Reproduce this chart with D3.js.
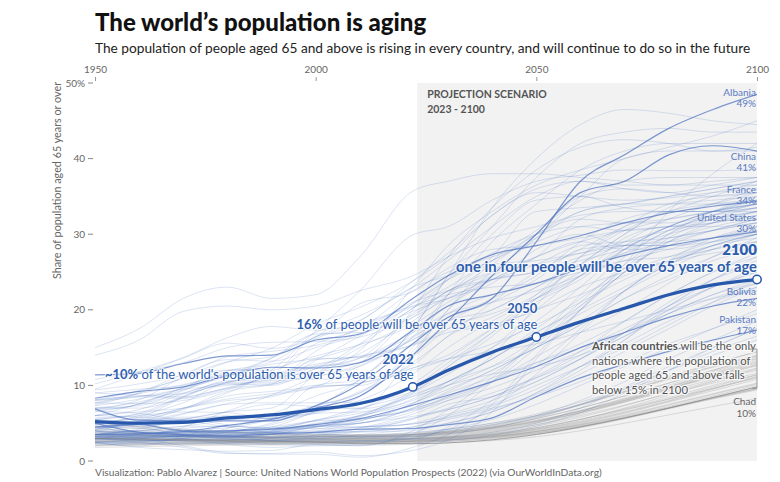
<!DOCTYPE html>
<html><head><meta charset="utf-8">
<script src="https://cdn.jsdelivr.net/npm/d3@7"></script>
<style>
body{margin:0;background:#fff;}
svg{font-family:Lato,"Open Sans",sans-serif;}
</style></head>
<body><svg id="c" width="780" height="482"></svg>
<script>
const years = [1950,1960,1970,1980,1990,2000,2010,2022,2030,2040,2050,2060,2070,2080,2090,2100];
const yTicks = [0,10,20,30,40,50];
const xTicks = [1950,2000,2050,2100];
const worldShare = [5.2,5.0,5.1,5.7,6.1,6.8,7.6,9.8,12.0,14.4,16.4,18.4,20.2,22.0,23.3,24.0];

// non-African countries (blue)
const otherNames = ["Japan","South Korea","Italy","Spain","Germany","Greece","Portugal","Hong Kong","Taiwan","Singapore","Puerto Rico","Cuba","Thailand","Iran","Vietnam","Brazil","Chile","Colombia","Mexico","Argentina","Uruguay","Canada","United Kingdom","Sweden","Russia","Poland","Ukraine","Bulgaria","Serbia","Lithuania","Armenia","Georgia","Turkey","India","Indonesia","Philippines","Bangladesh","Peru","Guatemala","Honduras","Haiti","Afghanistan","Iraq","Yemen","Saudi Arabia","UAE","Qatar","Kuwait","Mongolia","Israel","Australia","New Zealand","Papua New Guinea","Nepal","Monaco","San Marino","Sri Lanka","Malaysia","Myanmar","Kazakhstan","Uzbekistan","Ecuador","Paraguay","Venezuela","Dominican Republic","Jamaica","Barbados","Belarus","Romania","Netherlands","Hungary","Cyprus","Malta","Switzerland","Moldova","North Korea","Lebanon","Bhutan","Macao","Tajikistan","Solomon Islands","Laos","Cambodia","Syria","Jordan","Guyana","Bosnia","Croatia","Bahrain","Oman"];
const otherValues = [
[4.9,5.7,7.0,9.0,12.0,17.2,22.5,29.9,31.0,34.5,37.0,37.8,38.5,38.4,38.4,38.6],
[2.9,3.3,3.3,3.8,5.0,7.1,10.8,17.5,24.5,33.5,40.0,44.5,46.5,46.0,45.0,44.5],
[8.1,9.3,10.9,13.1,14.9,18.1,20.3,23.8,27.0,32.5,35.5,35.0,34.5,34.8,35.5,36.0],
[7.3,8.2,9.6,11.2,13.6,16.8,17.0,20.2,24.0,30.0,34.5,35.0,33.5,33.0,34.0,35.5],
[9.5,11.5,13.6,15.6,14.9,16.4,20.8,22.4,25.5,28.0,28.5,29.5,30.5,31.0,31.5,32.5],
[6.8,8.1,11.1,13.1,13.8,17.0,19.2,23.0,26.5,31.0,35.0,37.0,36.0,35.5,36.5,37.5],
[7.0,7.8,9.4,11.4,13.6,16.2,18.5,23.8,27.5,32.5,36.0,37.0,36.5,36.5,37.0,37.5],
[2.5,2.9,4.5,6.6,8.7,11.1,12.9,20.0,27.0,33.5,38.5,41.5,42.5,42.0,41.0,41.0],
[2.5,2.5,3.0,4.3,6.2,8.6,10.7,17.5,24.5,31.0,37.5,42.0,43.5,44.0,43.5,43.5],
[2.4,2.0,3.3,4.7,5.6,7.3,9.0,15.0,22.0,29.0,34.0,38.5,41.0,42.0,42.0,42.0],
[3.8,5.3,6.9,9.2,10.1,11.6,14.6,23.0,28.5,33.0,36.5,38.5,40.0,41.5,43.0,45.0],
[4.4,4.9,6.2,7.6,8.7,9.8,12.6,16.4,22.0,27.0,33.0,33.5,34.0,35.0,36.0,37.0],
[3.0,3.0,3.3,3.8,4.8,6.5,8.5,14.5,20.0,26.5,30.5,34.5,37.0,37.5,37.5,37.5],
[4.5,3.7,3.3,3.2,3.5,4.5,5.3,7.6,10.0,14.0,20.5,27.0,31.0,34.0,35.0,35.5],
[4.2,5.0,5.8,5.8,5.7,6.3,6.5,9.0,12.5,17.0,21.5,24.5,28.5,31.0,33.0,34.5],
[2.8,3.0,3.4,4.0,4.3,5.3,6.8,10.2,13.5,17.5,22.0,27.0,30.5,33.0,34.0,34.5],
[3.5,4.0,4.6,5.4,6.1,7.3,9.0,13.0,16.5,21.0,25.0,28.0,31.0,33.0,35.0,37.0],
[3.0,3.2,3.7,3.9,4.1,4.8,6.0,9.3,12.5,16.5,21.5,26.0,30.0,33.5,35.5,36.5],
[3.3,3.4,3.9,4.1,4.2,4.9,5.9,8.2,10.5,13.5,17.5,21.5,25.5,28.5,30.5,32.0],
[4.1,5.5,7.0,8.2,8.9,9.7,10.3,12.0,13.5,15.5,18.0,21.0,24.0,26.5,28.5,30.0],
[7.6,8.6,8.9,10.4,11.5,12.8,13.9,15.4,17.5,20.0,23.0,26.0,29.0,32.0,34.0,36.0],
[7.7,7.6,8.0,9.4,11.3,12.6,14.2,19.0,22.5,24.0,25.0,27.0,28.5,30.0,31.5,33.0],
[10.8,11.8,13.0,15.0,15.7,15.8,16.4,19.0,21.5,24.0,25.0,26.5,28.0,29.5,30.5,31.5],
[10.2,11.8,13.7,16.3,17.8,17.3,18.2,20.5,22.0,23.0,23.5,25.0,26.5,27.0,28.5,29.5],
[4.8,6.0,7.7,10.2,10.2,12.5,13.0,16.0,18.5,20.0,23.0,26.0,25.5,26.5,28.0,29.0],
[5.2,5.8,8.4,10.2,10.0,12.2,13.6,19.5,22.5,25.0,30.0,35.0,36.0,35.5,35.0,35.5],
[6.0,7.6,9.7,12.0,12.3,13.9,15.4,18.0,21.0,24.0,27.0,32.0,33.5,34.0,34.5,35.0],
[6.7,7.5,9.7,11.9,13.1,16.4,18.6,23.0,24.5,26.5,30.0,32.0,31.5,31.5,32.5,33.5],
[5.5,6.3,8.6,10.4,11.4,16.5,17.4,21.0,22.5,24.0,26.0,28.5,29.0,29.5,30.5,31.5],
[9.0,9.5,10.0,11.4,10.9,14.5,17.7,20.8,24.0,27.5,30.0,31.0,30.5,31.0,32.0,33.0],
[6.6,6.3,5.5,5.5,5.7,10.0,10.7,12.7,16.5,19.0,22.0,26.0,30.0,33.0,33.0,33.5],
[7.0,7.0,8.3,9.6,10.2,13.5,13.7,15.3,17.0,18.0,20.0,23.0,25.0,27.0,29.0,31.0],
[3.3,3.4,4.3,4.6,4.3,5.4,7.0,9.0,11.5,15.0,20.0,24.5,28.0,31.0,33.0,34.0],
[3.1,3.1,3.4,3.7,4.0,4.6,5.0,6.9,8.3,10.5,13.8,17.0,20.0,23.5,27.0,29.5],
[4.0,3.3,3.2,3.4,3.8,4.7,5.0,7.0,9.2,12.0,15.0,18.0,21.5,24.0,26.5,28.0],
[3.3,2.8,2.7,2.8,3.0,3.4,4.0,5.6,6.8,8.5,11.0,14.0,17.0,20.0,23.0,25.5],
[4.0,3.8,3.2,3.1,3.1,3.8,4.4,6.2,8.0,10.5,15.0,20.0,25.0,29.0,31.0,32.0],
[3.3,3.4,3.4,3.6,4.0,4.8,6.0,8.8,10.5,13.5,17.0,20.0,23.0,26.0,28.5,30.0],
[2.5,2.7,2.8,3.0,3.5,3.9,4.5,4.9,5.8,7.3,9.5,12.5,15.5,18.5,21.0,23.0],
[3.0,2.8,2.9,3.1,3.3,3.7,4.2,5.0,6.2,8.0,10.5,13.5,17.0,20.5,23.0,25.0],
[4.3,4.0,4.6,4.6,4.4,4.3,4.5,4.9,5.7,7.0,8.5,10.5,13.0,15.5,17.5,19.5],
[2.5,2.4,2.3,2.3,2.2,2.2,2.2,2.4,2.7,3.4,4.6,6.4,9.0,12.0,15.0,17.5],
[3.5,3.9,3.4,2.9,2.7,3.0,3.2,3.5,4.2,5.5,7.5,10.0,12.5,15.0,17.5,20.0],
[2.5,2.6,2.8,2.9,2.7,2.5,2.7,2.8,3.1,3.8,5.0,7.0,9.8,12.5,15.0,17.5],
[3.2,3.2,3.3,3.3,2.7,2.8,2.7,2.9,4.5,8.0,12.5,17.5,22.5,26.0,27.5,28.0],
[3.5,3.0,2.0,1.1,0.9,0.9,0.5,1.8,3.5,7.5,14.0,20.0,25.0,29.5,32.0,33.5],
[3.0,2.5,1.8,1.0,1.0,1.2,0.7,1.4,2.8,6.5,13.5,20.0,26.0,33.0,38.0,42.0],
[2.5,1.8,1.5,1.3,1.4,2.2,2.0,4.0,6.8,11.0,16.0,21.0,26.0,30.0,32.0,33.0],
[4.5,4.3,3.8,3.8,3.8,3.8,3.9,4.5,6.0,7.5,10.0,12.5,15.0,18.0,21.0,24.0],
[4.2,5.2,6.8,8.6,9.2,9.8,10.3,12.3,13.5,14.5,15.5,17.0,18.5,20.0,21.5,22.5],
[8.1,8.5,8.3,9.6,11.2,12.4,13.6,17.0,19.5,21.0,22.5,24.5,26.5,28.0,29.5,30.5],
[9.0,8.7,8.5,9.7,11.1,11.7,13.1,16.3,19.5,22.0,23.5,25.5,27.5,29.0,30.5,32.0],
[2.3,2.3,2.4,2.5,2.6,2.8,3.0,3.2,3.6,4.4,5.7,7.5,9.6,12.0,14.0,16.0],
[3.6,3.7,3.8,3.8,3.8,4.0,5.0,5.9,6.8,8.5,11.2,14.5,18.5,22.0,25.0,27.5],
[15.0,17.5,21.5,23.0,21.5,22.0,27.0,35.7,37.0,38.0,38.0,37.5,37.0,36.5,36.5,36.5],
[14.0,16.0,19.8,20.5,20.0,20.5,22.5,24.5,27.0,29.5,31.0,32.5,33.0,33.0,33.0,33.5],
[3.5,4.0,4.1,4.4,5.4,6.3,8.0,11.5,15.0,18.5,21.5,25.0,27.5,30.5,32.5,34.0],
[4.8,3.6,3.6,3.7,3.7,4.2,5.3,7.6,10.5,13.5,17.0,20.5,25.0,29.0,31.5,33.0],
[3.5,3.6,3.8,4.0,4.5,5.3,5.6,6.8,8.5,10.5,13.0,15.5,18.5,22.0,25.0,27.0],
[5.5,6.0,6.5,6.4,5.6,7.0,6.9,8.5,10.0,11.5,12.5,14.0,16.5,19.5,22.0,23.5],
[5.5,5.0,5.6,4.8,4.2,4.6,4.5,5.5,7.5,8.5,10.5,13.5,17.0,21.0,24.0,26.0],
[4.0,3.8,3.9,4.0,4.3,5.4,6.3,8.0,10.0,12.5,16.0,19.5,22.5,25.5,28.0,30.0],
[3.5,3.6,3.7,3.8,3.9,4.6,5.5,6.7,8.0,9.7,12.0,14.5,17.0,19.5,21.5,23.5],
[2.8,2.9,3.3,3.5,3.8,4.5,5.8,8.6,10.5,12.5,15.0,18.5,22.5,26.5,29.5,31.0],
[3.2,2.9,3.0,3.3,3.9,5.0,6.0,7.7,9.5,12.0,15.0,18.0,21.5,24.5,27.0,29.0],
[4.5,5.2,6.3,7.5,7.7,7.7,7.8,9.2,12.0,15.0,18.5,23.0,28.0,31.0,33.0,34.0],
[6.5,7.5,9.0,10.5,11.0,10.8,11.3,17.0,20.5,24.0,27.0,29.0,30.5,32.0,33.0,34.0],
[7.0,7.3,9.3,11.5,10.7,13.4,13.8,16.5,19.0,21.0,24.0,28.0,28.5,28.5,29.0,30.0],
[6.0,6.8,8.9,10.4,10.4,13.3,16.5,19.8,21.5,23.5,28.0,30.0,28.5,28.5,29.5,31.0],
[7.7,8.9,10.1,11.5,12.8,13.6,15.4,20.2,23.0,26.0,26.5,27.5,28.5,29.0,29.5,30.0],
[7.4,9.0,11.5,13.4,13.2,15.0,16.7,20.4,21.5,24.5,27.0,29.0,28.0,28.0,29.0,30.5],
[5.7,6.2,8.5,10.6,10.6,11.2,12.5,16.1,18.5,21.5,24.5,29.0,32.0,33.0,33.0,33.0],
[8.0,8.5,9.5,10.0,10.8,12.2,15.5,20.9,24.0,26.5,29.5,33.0,34.0,34.0,34.0,34.5],
[9.4,10.2,11.4,13.8,14.5,15.3,16.9,19.3,22.5,25.0,26.0,27.5,29.0,30.5,31.5,32.5],
[6.0,6.5,7.0,8.0,8.5,10.0,10.0,13.8,17.5,19.5,21.5,24.5,29.5,31.0,31.0,31.5],
[3.0,3.5,3.6,3.9,4.5,6.6,9.2,12.3,14.0,17.5,20.0,22.0,24.5,26.5,28.0,29.0],
[5.0,5.5,5.4,6.0,5.6,6.5,7.5,9.7,13.0,17.0,21.0,24.0,28.0,31.0,33.0,34.5],
[3.0,3.1,3.3,3.4,3.6,4.5,5.0,6.5,8.5,11.5,15.5,20.5,25.5,30.0,33.0,35.0],
[4.5,4.5,5.5,6.5,7.5,7.2,7.0,14.0,20.0,25.0,29.5,35.0,40.0,41.0,41.0,41.5],
[6.0,5.8,5.4,4.5,3.8,3.7,3.2,3.3,4.0,4.8,6.0,8.0,10.5,13.5,16.0,18.5],
[2.0,2.5,3.0,3.2,3.2,3.2,3.3,3.8,4.2,5.0,6.0,7.5,9.5,12.0,14.5,16.5],
[3.8,3.6,3.4,3.5,3.5,3.7,3.9,4.5,5.5,6.8,8.8,11.5,14.5,17.5,20.5,23.0],
[3.0,2.8,2.6,2.5,3.0,3.4,4.3,5.7,7.0,9.0,11.0,13.5,16.5,19.5,22.0,24.0],
[5.5,5.0,4.0,3.3,3.0,3.0,3.5,4.2,5.0,6.5,9.0,12.5,16.0,20.0,23.0,25.0],
[5.0,4.5,3.5,3.0,2.8,3.2,3.8,4.0,5.0,6.5,9.0,12.0,16.0,20.5,24.0,26.5],
[3.5,3.2,3.2,3.5,3.8,4.5,5.5,7.0,9.0,11.0,13.0,15.0,17.5,20.5,24.0,27.0],
[3.5,4.2,5.5,6.5,7.0,11.5,15.0,18.5,22.0,26.0,30.0,33.0,34.0,35.0,36.0,37.0],
[8.0,9.0,11.0,12.0,12.0,15.5,17.5,22.5,25.0,27.0,29.0,31.0,31.5,32.0,33.0,34.0],
[4.0,3.5,3.0,2.2,1.8,2.0,2.1,3.6,6.0,10.5,16.0,22.0,27.0,30.5,32.5,34.0],
[3.3,3.1,2.9,2.6,2.3,2.4,2.5,3.0,4.2,7.0,11.5,17.0,22.5,26.0,28.5,30.0]
];

// African countries (grey)
const africaValues = [
[3.0,3.0,2.9,2.8,2.8,2.8,2.7,2.8,3.0,3.5,4.3,5.5,7.0,8.7,10.5,12.2],
[2.6,2.6,2.6,2.5,2.5,2.6,2.6,2.7,2.9,3.3,4.0,5.0,6.3,7.8,9.3,10.8],
[3.5,3.4,3.3,3.1,3.0,3.0,3.0,3.1,3.4,4.0,5.0,6.4,8.0,9.8,11.6,13.3],
[2.2,2.3,2.4,2.4,2.4,2.5,2.5,2.6,2.8,3.1,3.7,4.6,5.7,7.0,8.3,9.5],
[4.0,3.8,3.5,3.3,3.1,3.0,3.0,3.2,3.6,4.4,5.6,7.0,8.6,10.3,12.0,13.8],
[3.2,3.1,3.0,3.0,2.9,2.9,2.9,3.0,3.2,3.7,4.6,5.8,7.3,9.0,10.6,12.0],
[2.8,2.8,2.7,2.6,2.5,2.5,2.4,2.5,2.6,2.9,3.5,4.4,5.6,7.0,8.4,9.8],
[3.8,3.7,3.5,3.3,3.2,3.2,3.2,3.3,3.6,4.2,5.2,6.6,8.3,10.0,11.8,13.5],
[2.4,2.4,2.5,2.6,2.7,2.8,2.9,3.0,3.3,3.9,4.8,6.0,7.4,8.9,10.3,11.6],
[3.3,3.2,3.1,3.1,3.1,3.2,3.3,3.5,3.9,4.5,5.4,6.6,8.0,9.5,11.1,12.6],
[4.5,4.3,4.0,3.7,3.5,3.3,3.2,3.4,3.8,4.6,5.8,7.4,9.2,11.0,12.8,14.5],
[2.9,2.8,2.7,2.6,2.6,2.6,2.6,2.7,3.0,3.4,4.1,5.1,6.4,7.9,9.5,11.1],
[2.0,2.1,2.2,2.3,2.4,2.4,2.5,2.6,2.8,3.2,3.9,4.9,6.1,7.5,8.9,10.3],
[3.6,3.5,3.4,3.3,3.3,3.3,3.4,3.6,4.0,4.8,6.0,7.5,9.2,10.9,12.5,14.0],
[3.1,3.0,2.9,2.8,2.7,2.7,2.7,2.9,3.2,3.8,4.8,6.2,7.8,9.5,11.3,13.0],
[2.5,2.5,2.4,2.4,2.3,2.3,2.3,2.4,2.6,3.0,3.6,4.5,5.6,6.9,8.2,9.4],
[4.2,4.0,3.8,3.6,3.5,3.4,3.4,3.5,3.8,4.4,5.3,6.6,8.1,9.7,11.3,12.8],
[2.7,2.7,2.8,2.8,2.8,2.9,2.9,3.0,3.2,3.6,4.4,5.5,6.9,8.4,10.0,11.4],
[3.4,3.3,3.2,3.0,2.9,2.8,2.8,2.9,3.1,3.6,4.4,5.5,6.8,8.2,9.6,11.0],
[2.3,2.2,2.2,2.2,2.1,2.1,2.1,2.2,2.4,2.7,3.2,4.0,5.0,6.1,7.2,8.3],
[3.9,3.8,3.6,3.4,3.3,3.3,3.3,3.5,3.9,4.7,5.9,7.4,9.1,10.8,12.4,13.9],
[2.9,2.9,2.8,2.8,2.7,2.7,2.8,2.9,3.1,3.5,4.2,5.2,6.5,8.0,9.6,11.2],
[3.0,2.9,2.8,2.7,2.6,2.6,2.5,2.6,2.8,3.2,3.8,4.7,5.8,7.1,8.4,9.6],
[5.0,4.6,4.2,3.9,3.7,3.5,3.4,3.5,3.8,4.5,5.6,7.0,8.6,10.3,12.0,13.6],
[2.6,2.7,2.7,2.8,2.9,3.0,3.1,3.3,3.7,4.3,5.3,6.7,8.2,9.8,11.5,13.1],
[3.7,3.5,3.3,3.2,3.1,3.1,3.1,3.2,3.5,4.1,5.1,6.4,7.9,9.6,11.2,12.7],
[2.1,2.2,2.3,2.4,2.5,2.6,2.6,2.7,2.9,3.4,4.2,5.3,6.7,8.2,9.8,11.4],
[3.2,3.3,3.3,3.2,3.1,3.0,2.9,2.9,3.0,3.3,3.9,4.8,5.9,7.2,8.6,10.0],
[4.8,4.5,4.1,3.8,3.6,3.5,3.5,3.7,4.2,5.0,6.2,7.8,9.5,11.2,12.9,14.4],
[2.8,2.7,2.6,2.5,2.5,2.5,2.5,2.6,2.8,3.2,3.9,4.8,6.0,7.4,8.8,10.2],
[1.8,1.9,2.0,2.1,2.2,2.3,2.4,2.5,2.7,3.1,3.7,4.6,5.7,7.0,8.3,9.6],
[3.5,3.4,3.3,3.2,3.2,3.2,3.2,3.4,3.7,4.3,5.2,6.4,7.8,9.3,10.8,12.3]
];

// labelled countries
const labelNames = ["Albania","China","France","United States","Bolivia","Pakistan"];
const labelShares = ["49%","41%","34%","30%","22%","17%"];
const labelValues = [
[6.9,5.4,5.3,5.3,5.3,7.3,10.2,15.5,19.0,21.5,29.0,37.0,40.5,44.0,46.5,48.5],
[4.5,4.8,4.0,4.7,5.5,7.0,8.6,14.0,18.5,24.5,30.0,35.5,37.0,40.5,41.7,41.0],
[11.4,11.6,12.9,13.9,14.0,16.0,16.8,21.5,24.5,27.3,28.5,29.8,31.5,32.8,33.7,34.3],
[8.3,9.2,9.8,11.3,12.4,12.3,13.0,17.3,20.5,22.0,23.5,25.5,27.2,28.5,29.5,30.3],
[3.5,3.6,3.9,4.0,4.2,4.8,5.6,7.4,8.7,10.5,12.5,15.0,17.0,19.0,20.5,21.5],
[5.0,3.8,3.5,3.3,3.6,3.8,4.2,4.3,4.8,5.7,8.5,11.0,12.8,14.5,16.0,17.3]
];
const chadName = "Chad";
const chadShare = "10%";
const chadValues = [3.0,2.9,2.8,2.7,2.6,2.5,2.3,2.3,2.4,2.8,3.5,4.5,5.7,7.0,8.4,9.8];

const svg = d3.select("#c");
const x = d3.scaleLinear().domain([1950,2100]).range([95,757]);
const y = d3.scaleLinear().domain([0,50]).range([461,83]);
const line = d3.line().x((d,i)=>x(years[i])).y(d=>y(d)).curve(d3.curveMonotoneX);

// title
svg.append("text").attr("x",95).attr("y",31).attr("font-size",24).attr("font-weight",900)
  .attr("fill","#111").text("The world’s population is aging");
svg.append("text").attr("x",95).attr("y",53).attr("font-size",13.7).attr("fill","#222")
  .text("The population of people aged 65 and above is rising in every country, and will continue to do so in the future");

// projection rect
svg.append("rect").attr("x",x(2023)).attr("y",y(50)).attr("width",x(2100)-x(2023)).attr("height",y(0)-y(50))
  .attr("fill","#f2f2f2");
svg.append("text").attr("x",x(2023)+10).attr("y",98).attr("font-size",10.5).attr("font-weight",700).attr("fill","#555").text("PROJECTION SCENARIO");
svg.append("text").attr("x",x(2023)+10).attr("y",113).attr("font-size",10.5).attr("font-weight",700).attr("fill","#555").text("2023 - 2100");

// axes
const xa = svg.append("g").attr("transform",`translate(0,${y(50)-2})`)
  .call(d3.axisTop(x).tickValues(xTicks).tickFormat(d3.format("d")).tickSize(4).tickPadding(4));
xa.select(".domain").remove();
xa.selectAll("line").attr("stroke","#999");
xa.selectAll("text").attr("font-family","Lato").attr("font-size",10).attr("fill","#666");

const ya = svg.append("g");
yTicks.forEach(v=>{
  ya.append("line").attr("x1",88).attr("x2",93).attr("y1",y(v)).attr("y2",y(v)).attr("stroke","#888");
  ya.append("text").attr("x",85).attr("y",y(v)).attr("dy","0.35em").attr("text-anchor","end")
    .attr("font-size",10).attr("fill","#666").text(v===50?"50%":v);
});
svg.append("text").attr("transform",`translate(61,${(y(50)+y(25))/2+3}) rotate(-90)`).attr("text-anchor","middle")
  .attr("font-size",10.8).attr("fill","#666").text("Share of population aged 65 years or over");

// lines
const g = svg.append("g");
g.selectAll(".af").data(africaValues).join("path").attr("d",line).attr("fill","none")
  .attr("stroke","#8c8c8c").attr("stroke-opacity",0.3).attr("stroke-width",0.9);
g.selectAll(".ot").data(otherValues).join("path").attr("d",line).attr("fill","none")
  .attr("stroke","#4f76c2").attr("stroke-opacity",0.22).attr("stroke-width",0.9);
g.append("path").attr("d",line(chadValues)).attr("fill","none").attr("stroke","#888").attr("stroke-opacity",0.7).attr("stroke-width",1);
g.selectAll(".hl").data(labelValues).join("path").attr("d",line).attr("fill","none")
  .attr("stroke","#5377c2").attr("stroke-opacity",0.75).attr("stroke-width",1.2);

// world
g.append("path").attr("d",line(worldShare)).attr("fill","none").attr("stroke","#2758ab").attr("stroke-width",3.2);
[2022,2050,2100].forEach(yr=>{
  const i = years.indexOf(yr);
  g.append("circle").attr("cx",x(yr)).attr("cy",y(worldShare[i])).attr("r",4.2)
    .attr("fill","#fff").attr("stroke","#2758ab").attr("stroke-width",1.5);
});

// right labels
const rx = x(2100)-1;
const lab = svg.append("g").attr("font-size",10).attr("text-anchor","end").attr("fill","#5a7bc2");
const labelY = [96,160,193,221,295,323];
labelNames.forEach((n,i)=>{
  lab.append("text").attr("x",rx).attr("y",labelY[i]).text(n);
  lab.append("text").attr("x",rx).attr("y",labelY[i]+11).text(labelShares[i]);
});
const chadG = svg.append("g").attr("font-size",10).attr("text-anchor","end").attr("fill","#666");
chadG.append("text").attr("x",rx).attr("y",405).text(chadName);
chadG.append("text").attr("x",rx).attr("y",417).text(chadShare);

// annotations
function halo(s){return s.attr("stroke","#fff").attr("stroke-width",2.5).attr("stroke-opacity",0.7).attr("paint-order","stroke");}
const blue="#2f5ead";
halo(svg.append("text").attr("x",x(2100)).attr("y",255).attr("text-anchor","end").attr("font-size",15).attr("font-weight",800).attr("fill",blue).text("2100"));
halo(svg.append("text").attr("x",x(2100)).attr("y",272).attr("text-anchor","end").attr("font-size",14.8).attr("font-weight",700).attr("fill",blue).text("one in four people will be over 65 years of age"));

halo(svg.append("text").attr("x",x(2050)+1).attr("y",313).attr("text-anchor","end").attr("font-size",13).attr("font-weight",700).attr("fill",blue).text("2050"));
const t50 = halo(svg.append("text").attr("x",x(2050)+1).attr("y",329).attr("text-anchor","end").attr("font-size",13).attr("fill",blue));
t50.append("tspan").attr("font-weight",700).text("16%");
t50.append("tspan").text(" of people will be over 65 years of age");

halo(svg.append("text").attr("x",x(2022)+1).attr("y",364).attr("text-anchor","end").attr("font-size",13.5).attr("font-weight",700).attr("fill",blue).text("2022"));
const t22 = halo(svg.append("text").attr("x",x(2022)+1).attr("y",379).attr("text-anchor","end").attr("font-size",13).attr("fill",blue));
t22.append("tspan").attr("font-weight",700).text("~10%");
t22.append("tspan").text(" of the world's population is over 65 years of age");

// African annotation
const af = svg.append("g").attr("font-size",11.3).attr("fill","#555");
const afLines = [" will be the only","nations where the population of","people aged 65 and above falls","below 15% in 2100"];
const l1 = halo(af.append("text").attr("x",592).attr("y",350));
l1.append("tspan").attr("font-weight",700).text("African countries");
l1.append("tspan").text(afLines[0]);
afLines.slice(1).forEach((s,i)=>halo(af.append("text").attr("x",592).attr("y",364.5+i*14.5).text(s)));
svg.append("path").attr("d",`M748,${y(14.8)}H${x(2100)}V${y(9.6)}H752`).attr("fill","none").attr("stroke","#999").attr("stroke-width",1);

// caption
svg.append("text").attr("x",95).attr("y",476).attr("font-size",10.2).attr("fill","#666")
  .text("Visualization: Pablo Alvarez | Source: United Nations World Population Prospects (2022) (via OurWorldInData.org)");
</script></body></html>
